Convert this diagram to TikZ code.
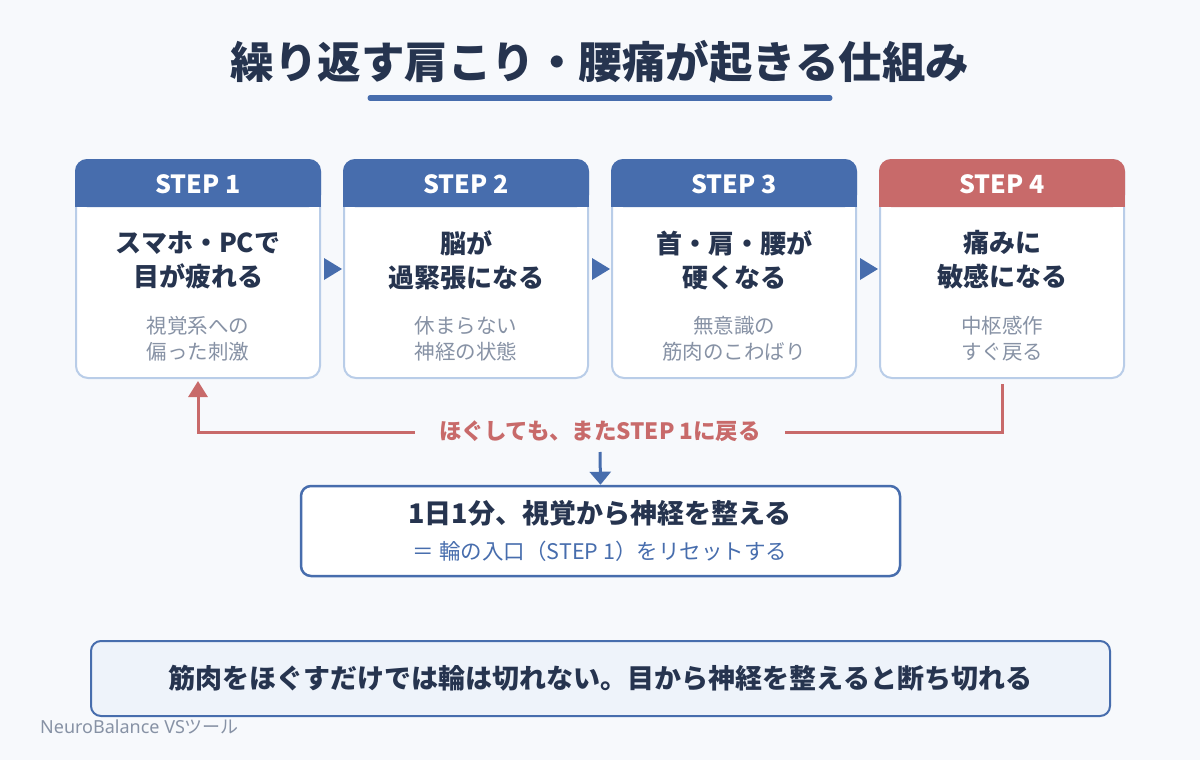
\documentclass[tikz,border=0pt]{standalone}
\usepackage{fontspec}
\setmainfont{Noto Sans CJK JP}
\newfontfamily\lat{Noto Sans}
\usetikzlibrary{arrows.meta}
\definecolor{bg}{HTML}{F7F9FC}
\definecolor{navy}{HTML}{26344F}
\definecolor{hblue}{HTML}{476DAD}
\definecolor{hred}{HTML}{C86A6A}
\definecolor{cborder}{HTML}{B9CDE8}
\definecolor{gtext}{HTML}{8792A5}
\definecolor{bfill}{HTML}{EEF3FA}
\newcommand\stepcard[6]{%
  \node[cardbox] (#1) at (#2+122,269) {};
  \fill[#3, rounded corners=12pt] (#2-1,159) rectangle (#2+245,207);
  \fill[#3] (#2-1,190) rectangle (#2+245,207);
  \node[hdrtext] (#1h) at (#2+122,184) {#4};
  \node[titletext] (#1t) at (#2+122,260) {#5};
  \node[subtext] (#1s) at (#2+122,339) {#6};
}
\begin{document}
\begin{tikzpicture}[x=1pt,y=-1pt,
  cardbox/.style={rectangle, minimum width=244pt, minimum height=218pt, rounded corners=12pt, fill=white, draw=cborder, line width=2pt, inner sep=0pt},
  hdrtext/.style={text=white, font=\bfseries\fontsize{25}{28}\selectfont, inner sep=0pt},
  titletext/.style={text=navy, align=center, font=\bfseries\fontsize{26}{34}\selectfont, inner sep=0pt},
  subtext/.style={text=gtext, align=center, font=\fontsize{20.5}{26}\selectfont, inner sep=0pt},
  tri/.style={fill=hblue},
  loopline/.style={draw=hred, line width=3pt},
  looplabel/.style={fill=bg, text=hred, font=\bfseries\fontsize{22.5}{26}\selectfont, inner xsep=24pt, inner ysep=4pt},
  bluearrow/.style={draw=hblue, line width=3pt, -{Triangle[width=21pt,length=13pt]}},
  resbox/.style={rectangle, minimum width=599pt, minimum height=90pt, rounded corners=10pt, fill=white, draw=hblue, line width=2.5pt},
  banner/.style={rectangle, minimum width=1019pt, minimum height=75pt, rounded corners=10pt, fill=bfill, draw=hblue, line width=2pt, text=navy, font=\bfseries\fontsize{27}{30}\selectfont}
]
\fill[bg] (0,0) rectangle (1200,760);
\useasboundingbox (0,0) rectangle (1200,760);

% title
\node[text=navy, font=\bfseries\fontsize{43.5}{50}\selectfont, inner sep=0pt] (title) at (600,62) {繰り返す肩こり・腰痛が起きる仕組み};
\coordinate (ulA) at (370,98);
\coordinate (ulB) at (830,98);
\draw[hblue, line width=5pt, line cap=round] (ulA) -- (ulB);

% cards
\stepcard{c1}{76}{hblue}{STEP 1}{スマホ・PCで\\目が疲れる}{視覚系への\\偏った刺激}
\stepcard{c2}{344}{hblue}{STEP 2}{脳が\\過緊張になる}{休まらない\\神経の状態}
\stepcard{c3}{612}{hblue}{STEP 3}{首・肩・腰が\\硬くなる}{無意識の\\筋肉のこわばり}
\stepcard{c4}{880}{hred}{STEP 4}{痛みに\\敏感になる}{中枢感作\\すぐ戻る}

% triangles between cards
\fill[tri] ([shift={(3,-11)}]c1.east) -- ++(18,11) -- ++(-18,11) -- cycle;
\fill[tri] ([shift={(3,-11)}]c2.east) -- ++(18,11) -- ++(-18,11) -- cycle;
\fill[tri] ([shift={(3,-11)}]c3.east) -- ++(18,11) -- ++(-18,11) -- cycle;

% loop back
\draw[loopline, -{Triangle[width=19pt,length=16pt]}, shorten >=2pt] ([shift={(0,5)}]c4.south) -- ++(0,48) -| (c1.south);
\node[looplabel] (lbl) at (600,431) {ほぐしても、またSTEP 1に戻る};

% reset box
\node[resbox] (res) at (600.5,531) {};
\node[text=navy, font=\bfseries\fontsize{27}{30}\selectfont, inner sep=0pt] (res1) at (600,513) {1日1分、視覚から神経を整える};
\node[text=hblue, font=\fontsize{21.5}{24}\selectfont, inner sep=0pt] (res2) at (600,551) {＝ 輪の入口（STEP 1）をリセットする};
\coordinate (dstart) at (600,452);
\draw[bluearrow] (dstart) -- (res.north);

% banner
\node[banner] (ban) at (600.5,678.5) {筋肉をほぐすだけでは輪は切れない。目から神経を整えると断ち切れる};

% footer
\node[anchor=west, text=gtext, font=\fontsize{18}{20}\selectfont, inner sep=0pt] (foot) at (40,727) {{\lat NeuroBalance VS}ツール};
\end{tikzpicture}
\end{document}
